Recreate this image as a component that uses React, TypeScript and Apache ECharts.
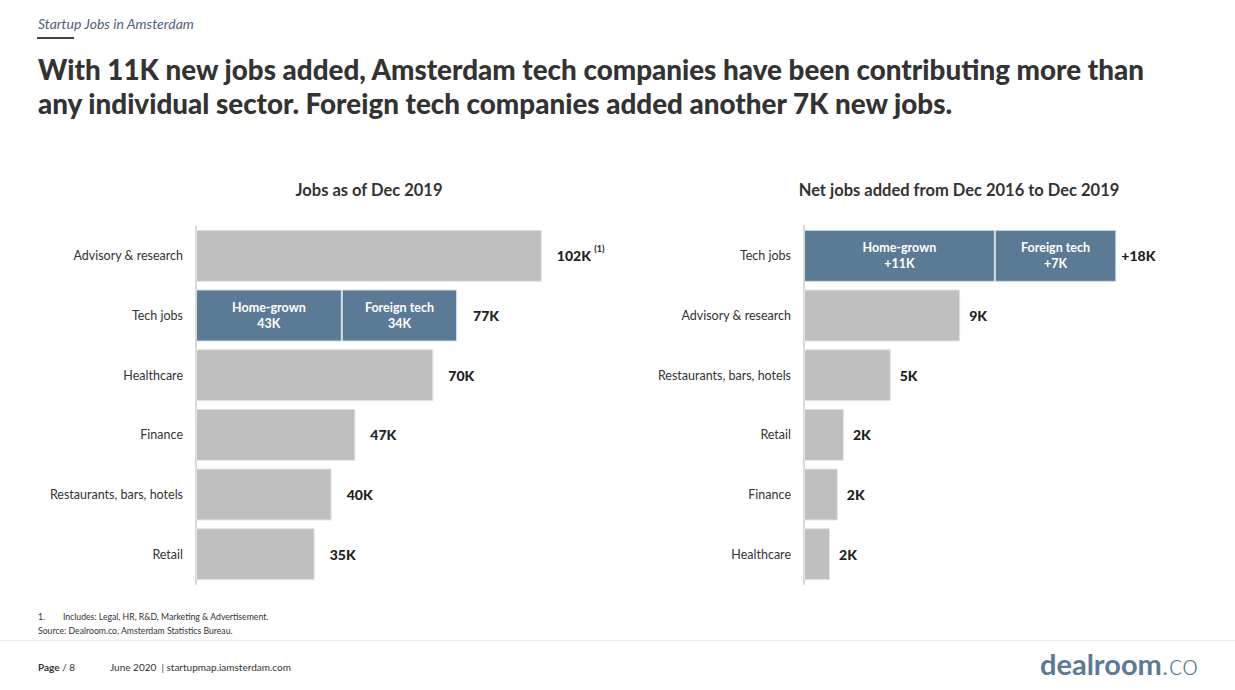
import React, { useEffect, useRef } from "react";
import * as echarts from "echarts";

// ---- Data ----
const leftCategories = ["Advisory & research", "Tech jobs", "Healthcare", "Finance", "Restaurants, bars, hotels", "Retail"];
const leftSector = [102, null, 70, 47, 40, 35];
const leftHomeGrown = [null, 43, null, null, null, null];
const leftForeign = [null, 34, null, null, null, null];
const leftNotes = ["(1)", "", "", "", "", ""];

const rightCategories = ["Tech jobs", "Advisory & research", "Restaurants, bars, hotels", "Retail", "Finance", "Healthcare"];
const rightSector = [null, 9, 5, 2.3, 1.95, 1.5];
const rightSectorLabels = ["", "9K", "5K", "2K", "2K", "2K"];
const rightHomeGrown = [11, null, null, null, null, null];
const rightForeign = [7, null, null, null, null, null];

const GREY = "#bfbfbf";
const BLUE = "#5b7a96";
const FONT = "Lato, 'Noto Sans', sans-serif";

export default function App() {
  const ref = useRef<HTMLDivElement>(null);
  useEffect(() => {
    document.body.style.margin = "0";
    const chart = echarts.init(ref.current!, null, { renderer: "svg" });

    const techIdxL = 1;
    const techIdxR = 0;
    const lTotal = leftCategories.map((_, i) => (i === techIdxL ? 0 : null));
    const rTotal = rightCategories.map((_, i) => (i === techIdxR ? 0 : null));
    const lTechSum = (leftHomeGrown[techIdxL] as number) + (leftForeign[techIdxL] as number);
    const rTechSum = (rightHomeGrown[techIdxR] as number) + (rightForeign[techIdxR] as number);

    const yAxisCommon = {
      type: "category",
      inverse: true,
      axisLine: { show: true, lineStyle: { color: "#d9d9d9", width: 2 } },
      axisTick: { show: false },
      axisLabel: { color: "#333", fontSize: 12.5, margin: 13, fontFamily: FONT },
    };
    const xAxisCommon = {
      type: "value",
      show: false,
      min: 0,
      splitLine: { show: false },
    };
    const valueLabel = {
      show: true,
      position: "right",
      color: "#222",
      fontWeight: 900,
      fontSize: 14,
      fontFamily: FONT,
    };
    const segLabel = {
      show: true,
      position: "inside",
      color: "#fff",
      fontWeight: "bold",
      fontSize: 12.5,
      lineHeight: 16,
      fontFamily: FONT,
    };
    const BW = 52;

    chart.setOption({
      animation: false,
      textStyle: { fontFamily: FONT },
      grid: [
        { left: 196, top: 226, width: 373, height: 358 },
        { left: 804, top: 226, width: 347, height: 358 },
      ],
      xAxis: [
        { ...xAxisCommon, gridIndex: 0, max: 110 },
        { ...xAxisCommon, gridIndex: 1, max: 20 },
      ],
      yAxis: [
        { ...yAxisCommon, gridIndex: 0, data: leftCategories },
        { ...yAxisCommon, gridIndex: 1, data: rightCategories },
      ],
      series: [
        {
          type: "bar", xAxisIndex: 0, yAxisIndex: 0, stack: "L", barWidth: BW,
          data: leftSector,
          itemStyle: { color: GREY, borderColor: "#e4e4e4", borderWidth: 1 },
          label: {
            ...valueLabel, distance: 15,
            formatter: (p: any) => leftNotes[p.dataIndex] ? `{v|${p.value}K} {s|${leftNotes[p.dataIndex]}}` : `{v|${p.value}K}`,
            rich: {
              v: { color: "#222", fontWeight: 900, fontSize: 14, fontFamily: FONT },
              s: { color: "#333", fontSize: 9, fontFamily: FONT, padding: [0, 0, 14, 0] },
            },
          },
        },
        {
          type: "bar", xAxisIndex: 0, yAxisIndex: 0, stack: "L", barWidth: BW,
          data: leftHomeGrown,
          itemStyle: { color: BLUE, borderColor: "#d5dde4", borderWidth: 1 },
          label: { ...segLabel, formatter: (p: any) => `Home-grown\n${p.value}K` },
        },
        {
          type: "bar", xAxisIndex: 0, yAxisIndex: 0, stack: "L", barWidth: BW,
          data: leftForeign,
          itemStyle: { color: BLUE, borderColor: "#d5dde4", borderWidth: 1 },
          label: { ...segLabel, formatter: (p: any) => `Foreign tech\n${p.value}K` },
        },
        {
          type: "bar", xAxisIndex: 0, yAxisIndex: 0, stack: "L", barWidth: BW,
          data: lTotal,
          itemStyle: { color: "transparent" },
          label: { ...valueLabel, distance: 16, formatter: () => `${lTechSum}K` },
        },
        {
          type: "bar", xAxisIndex: 1, yAxisIndex: 1, stack: "R", barWidth: BW,
          data: rightSector,
          itemStyle: { color: GREY, borderColor: "#e4e4e4", borderWidth: 1 },
          label: { ...valueLabel, distance: 9, formatter: (p: any) => rightSectorLabels[p.dataIndex] },
        },
        {
          type: "bar", xAxisIndex: 1, yAxisIndex: 1, stack: "R", barWidth: BW,
          data: rightHomeGrown,
          itemStyle: { color: BLUE, borderColor: "#d5dde4", borderWidth: 1 },
          label: { ...segLabel, formatter: (p: any) => `Home-grown\n+${p.value}K` },
        },
        {
          type: "bar", xAxisIndex: 1, yAxisIndex: 1, stack: "R", barWidth: BW,
          data: rightForeign,
          itemStyle: { color: BLUE, borderColor: "#d5dde4", borderWidth: 1 },
          label: { ...segLabel, formatter: (p: any) => `Foreign tech\n+${p.value}K` },
        },
        {
          type: "bar", xAxisIndex: 1, yAxisIndex: 1, stack: "R", barWidth: BW,
          data: rTotal,
          itemStyle: { color: "transparent" },
          label: { ...valueLabel, distance: 5, formatter: () => `+${rTechSum}K` },
        },
      ],
      graphic: [
        { type: "text", left: 38, top: 16, style: { text: "Startup Jobs in Amsterdam", fill: "#4e6178", fontSize: 14, fontStyle: "italic", fontFamily: FONT } },
        { type: "rect", shape: { x: 37, y: 37, width: 37, height: 2 }, style: { fill: "#444" } },
        { type: "text", left: 38, top: 52, style: { text: "With 11K new jobs added, Amsterdam tech companies have been contributing more than\nany individual sector. Foreign tech companies added another 7K new jobs.", fill: "#333", fontSize: 27.8, lineHeight: 34, fontWeight: 900, fontFamily: FONT } },
        { type: "text", x: 369, y: 190, style: { text: "Jobs as of Dec 2019", fill: "#333", fontSize: 16.5, fontWeight: "bold", fontFamily: FONT, align: "center", verticalAlign: "middle" } },
        { type: "text", x: 959, y: 190, style: { text: "Net jobs added from Dec 2016 to Dec 2019", fill: "#333", fontSize: 16.5, fontWeight: "bold", fontFamily: FONT, align: "center", verticalAlign: "middle" } },
        { type: "text", left: 38, top: 612, style: { text: "1.        Includes: Legal, HR, R&D, Marketing & Advertisement.", fill: "#333", fontSize: 8.7, fontFamily: FONT } },
        { type: "text", left: 38, top: 626, style: { text: "Source: Dealroom.co, Amsterdam Statistics Bureau.", fill: "#333", fontSize: 8.7, fontFamily: FONT } },
        { type: "rect", shape: { x: 0, y: 640, width: 1235, height: 1 }, style: { fill: "#eeeeee" } },
        { type: "text", left: 38, top: 662, style: { text: "{b|Page} / 8", fill: "#333", fontSize: 10, fontFamily: FONT, rich: { b: { fontWeight: "bold", fontSize: 10, fill: "#333", fontFamily: FONT } } } },
        { type: "text", left: 110, top: 662, style: { text: "June 2020  | startupmap.iamsterdam.com", fill: "#333", fontSize: 10, fontFamily: FONT } },
        { type: "text", left: 1040, top: 649, style: { text: "{b|dealroom}{l|.co}", rich: { b: { fontWeight: "bold", fontSize: 29, fill: "#5b7a96", fontFamily: FONT }, l: { fontWeight: 300, fontSize: 29, fill: "#5b7a96", fontFamily: FONT } } } },
      ],
    });
    return () => chart.dispose();
  }, []);
  return <div ref={ref} style={{ width: 1235, height: 690 }} />;
}
